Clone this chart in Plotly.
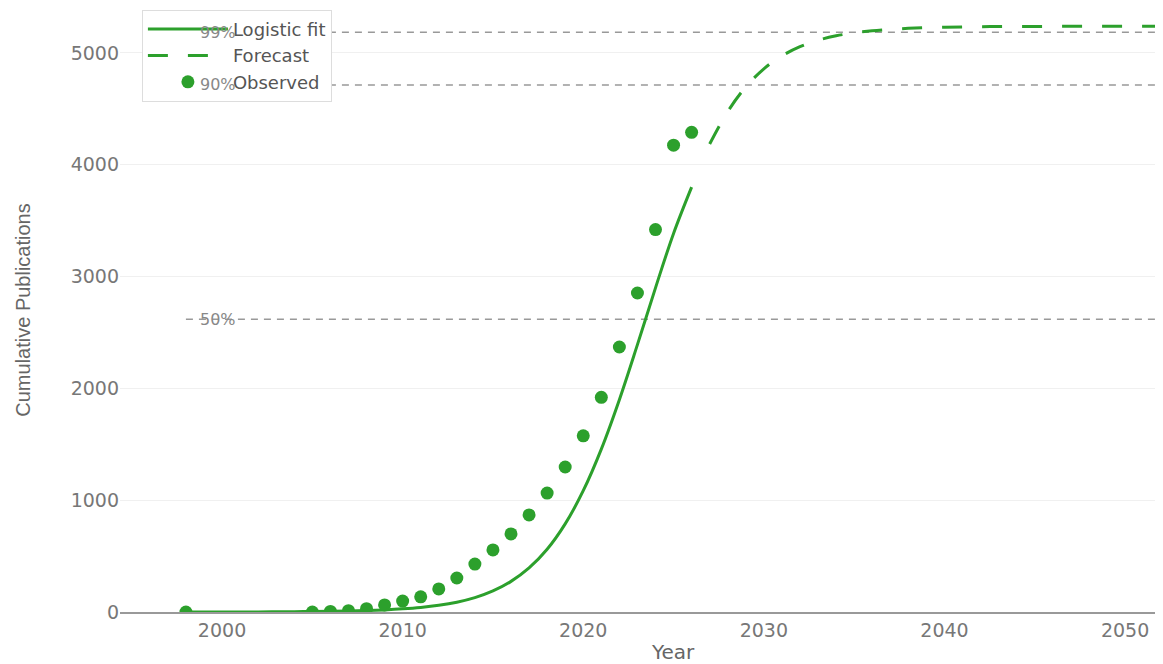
import plotly.graph_objects as go

# Observed cumulative publications
obs_years = [1998, 2005, 2006, 2007, 2008, 2009, 2010, 2011, 2012, 2013, 2014, 2015,
             2016, 2017, 2018, 2019, 2020, 2021, 2022, 2023, 2024, 2025, 2026]
obs_values = [0, 0, 5, 12, 30, 63, 98, 136, 206, 304, 429, 555,
              698, 868, 1064, 1297, 1576, 1920, 2370, 2853, 3420, 4175, 4290]

# Logistic fit
fit_years = list(range(1998, 2027))
fit_values = [0, 0, 1, 1, 1, 2, 3, 4, 6, 9, 13, 19, 28, 41, 60, 88, 129, 189,
              274, 394, 561, 788, 1085, 1457, 1899, 2391, 2899, 3386, 3800]

# Forecast
fc_years = list(range(2027, 2056))
fc_values = [4186, 4476, 4696, 4858, 4974, 5056, 5114, 5153, 5180, 5199, 5211, 5220,
             5226, 5230, 5233, 5235, 5236, 5237, 5237, 5238, 5238, 5238, 5238, 5238,
             5238, 5238, 5238, 5238, 5238]

# Saturation reference levels
level_labels = ["99%", "90%", "50%"]
level_values = [5186, 4714, 2619]

x_ticks = [2000, 2010, 2020, 2030, 2040, 2050]
y_ticks = [0, 1000, 2000, 3000, 4000, 5000]

GREEN = "#2ca02c"
FONT = "DejaVu Sans"

fig = go.Figure()
fig.add_trace(go.Scatter(x=fit_years, y=fit_values, mode="lines", name="Logistic fit",
                         line=dict(color=GREEN, width=3, shape="spline")))
fig.add_trace(go.Scatter(x=fc_years, y=fc_values, mode="lines", name="Forecast",
                         line=dict(color=GREEN, width=3, dash="20px,20px", shape="spline")))
fig.add_trace(go.Scatter(x=obs_years, y=obs_values, mode="markers", name="Observed",
                         marker=dict(color=GREEN, size=13)))

for lab, val in zip(level_labels, level_values):
    fig.add_shape(type="line", xref="x", yref="y", x0=1998, x1=2060, y0=val, y1=val,
                  line=dict(color="#999999", width=1.5, dash="7px,6px"), layer="below")
    fig.add_annotation(x=1999.8, y=val, xref="x", yref="y", text=lab, showarrow=False,
                       xanchor="center", yanchor="middle",
                       font=dict(family=FONT, size=16, color="#888888"))

fig.add_annotation(x=0.53, y=0, xref="paper", yref="paper", yshift=-40, text="Year",
                   showarrow=False, xanchor="center", yanchor="middle",
                   font=dict(family=FONT, size=20, color="#666666"))

# page body has an 8px margin: figure occupies page pixels 8..1163 x 8..664
fig.update_layout(
    width=1155, height=656, autosize=False,
    margin=dict(l=112, r=0, t=0, b=52),
    plot_bgcolor="white", paper_bgcolor="white",
    font=dict(family=FONT, color="#666666"),
    showlegend=True,
    legend=dict(x=0.021, y=0.997, xanchor="left", yanchor="top",
                bgcolor="white", bordercolor="#dddddd", borderwidth=1,
                font=dict(family=FONT, size=18, color="#555555"),
                itemwidth=80),
    xaxis=dict(range=[1994.35, 2052.1], tickvals=x_ticks, showgrid=False,
               zeroline=False, showline=True, linecolor="#999999", linewidth=2,
               tickfont=dict(family=FONT, size=19, color="#777777")),
    yaxis=dict(range=[0, 5402], tickvals=y_ticks, showgrid=True, gridcolor="#f0f0f0",
               zeroline=False, showline=False,
               title=dict(text="Cumulative Publications", standoff=34,
                          font=dict(family="Liberation Sans", size=20, color="#666666")),
               tickfont=dict(family=FONT, size=19, color="#777777")),
)

fig.write_html("out.html")
